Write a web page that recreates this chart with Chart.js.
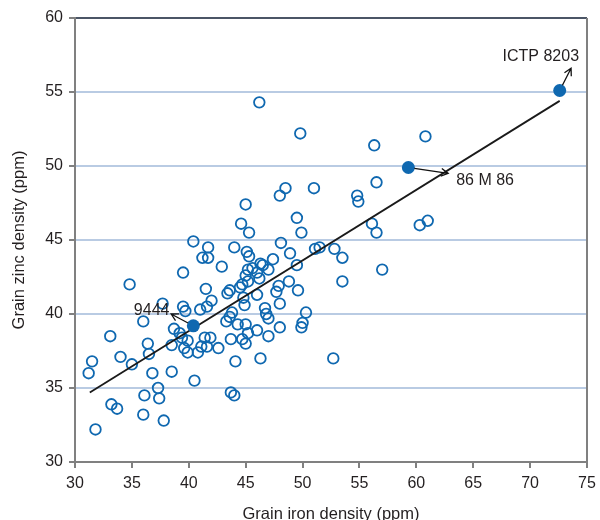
<!DOCTYPE html>
<html>
<head>
<meta charset="utf-8">
<script src="https://cdn.jsdelivr.net/npm/chart.js@4.4.0/dist/chart.umd.min.js"></script>
<style>
  html, body { margin: 0; padding: 0; background: #fff; }
  #wrap { width: 600px; height: 520px; }
</style>
</head>
<body>
<div id="wrap"><canvas id="zincChart"></canvas></div>
<script>
// grain iron (x) and zinc (y) density, ppm, one entry per line
const ironVals = [46.2, 49.8, 56.3, 60.8, 56.5, 54.8, 54.9, 56.1, 56.5, 60.3,
  61.0, 57.0, 53.5, 52.7, 52.8, 53.5, 51.1, 51.5, 51.0, 48.5,
  48.0, 49.5, 49.9, 50.3, 50.0, 49.9, 49.6, 48.8, 48.9, 49.5,
  48.1, 48.0, 48.0, 47.9, 47.7, 47.4, 46.3, 46.5, 47.0, 45.2,
  45.6, 45.0, 46.0, 46.2, 44.7, 45.2, 44.5, 43.6, 43.4, 46.0,
  44.9, 44.8, 46.7, 46.8, 47.0, 43.8, 43.6, 43.3, 44.3, 45.0,
  46.0, 45.2, 47.0, 44.7, 45.0, 43.7, 42.6, 44.1, 46.3, 40.5,
  38.5, 41.4, 41.9, 41.1, 41.6, 39.9, 40.8, 39.6, 39.4, 39.9,
  38.7, 39.2, 39.5, 39.7, 41.0, 41.6, 42.0, 37.7, 36.0, 41.5,
  40.4, 41.7, 41.2, 41.7, 44.0, 45.1, 45.3, 42.9, 39.5, 45.0,
  44.6, 45.3, 34.8, 33.1, 36.4, 31.5, 34.0, 36.5, 35.0, 31.2,
  36.8, 37.3, 37.4, 36.1, 33.2, 33.7, 36.0, 37.8, 31.8, 38.5,
  43.7, 44.0];
const zincVals = [54.3, 52.2, 51.4, 52.0, 48.9, 48.0, 47.6, 46.1, 45.5, 46.0,
  46.3, 43.0, 42.2, 37.0, 44.4, 43.8, 44.4, 44.5, 48.5, 48.5,
  48.0, 46.5, 45.5, 40.1, 39.4, 39.1, 41.6, 42.2, 44.1, 43.3,
  44.8, 39.1, 40.7, 41.9, 41.5, 43.7, 43.4, 43.3, 43.0, 43.0,
  43.1, 42.6, 42.8, 42.4, 42.0, 42.2, 41.8, 41.6, 41.4, 41.3,
  40.6, 41.1, 40.4, 40.0, 39.7, 40.1, 39.8, 39.5, 39.3, 39.3,
  38.9, 38.7, 38.5, 38.3, 38.0, 38.3, 37.7, 36.8, 37.0, 35.5,
  36.1, 38.4, 38.4, 37.8, 37.8, 37.4, 37.4, 37.7, 38.4, 38.2,
  39.0, 38.7, 40.5, 40.2, 40.3, 40.5, 40.9, 40.7, 39.5, 41.7,
  44.9, 44.5, 43.8, 43.8, 44.5, 44.2, 43.9, 43.2, 42.8, 47.4,
  46.1, 45.5, 42.0, 38.5, 38.0, 36.8, 37.1, 37.3, 36.6, 36.0,
  36.0, 35.0, 34.3, 34.5, 33.9, 33.6, 33.2, 32.8, 32.2, 37.9,
  34.7, 34.5];

// named lines
const namedLines = ['9444', '86 M 86', 'ICTP 8203'];
const namedIron = [40.4, 59.3, 72.6];
const namedZinc = [39.2, 49.9, 55.1];

// fitted trend line end points
const fitIron = [31.3, 72.6];
const fitZinc = [34.7, 54.4];

const xTicks = [30, 35, 40, 45, 50, 55, 60, 65, 70, 75];
const yTicks = [30, 35, 40, 45, 50, 55, 60];

// where each label's arrow points and where its text sits (data units)
const arrowTips = [[38.45, 40.0], [62.8, 49.5], [73.6, 56.6]];
const labelSpots = [[38.3, 40.2, 'right'], [63.5, 49.0, 'left'], [74.3, 57.4, 'right']];

const blue = '#0f68b0';
const textColor = '#231f20';
const axisGray = '#808080';
const gridBlue = '#b9cbe3';
const fontFamily = '"Liberation Sans", Arial, sans-serif';

const frameAndNotes = {
  id: 'frameAndNotes',
  afterDatasetsDraw(chart) {
    const { ctx, chartArea, scales } = chart;
    const xs = scales.x, ys = scales.y;
    ctx.save();
    // right-hand frame line
    ctx.strokeStyle = axisGray;
    ctx.lineWidth = 2;
    ctx.beginPath();
    ctx.moveTo(chartArea.right, chartArea.top);
    ctx.lineTo(chartArea.right, chartArea.bottom);
    ctx.stroke();

    ctx.strokeStyle = '#111';
    ctx.fillStyle = textColor;
    ctx.lineWidth = 1.3;
    ctx.font = '16px ' + fontFamily;
    ctx.textBaseline = 'middle';
    namedLines.forEach((name, i) => {
      const px = xs.getPixelForValue(namedIron[i]);
      const py = ys.getPixelForValue(namedZinc[i]);
      const tx = xs.getPixelForValue(arrowTips[i][0]);
      const ty = ys.getPixelForValue(arrowTips[i][1]);
      const ang = Math.atan2(ty - py, tx - px);
      const sx = px + Math.cos(ang) * 6;
      const sy = py + Math.sin(ang) * 6;
      ctx.beginPath();
      ctx.moveTo(sx, sy);
      ctx.lineTo(tx, ty);
      ctx.moveTo(tx - Math.cos(ang - 0.5) * 8, ty - Math.sin(ang - 0.5) * 8);
      ctx.lineTo(tx, ty);
      ctx.lineTo(tx - Math.cos(ang + 0.5) * 8, ty - Math.sin(ang + 0.5) * 8);
      ctx.stroke();

      const spot = labelSpots[i];
      ctx.textAlign = spot[2];
      ctx.fillText(name, xs.getPixelForValue(spot[0]), ys.getPixelForValue(spot[1]));
    });
    ctx.restore();
  }
};

const ctx = document.getElementById('zincChart').getContext('2d');
new Chart(ctx, {
  type: 'scatter',
  data: {
    datasets: [
      {
        label: 'named lines',
        data: namedIron.map((x, i) => ({ x: x, y: namedZinc[i] })),
        backgroundColor: blue,
        borderColor: blue,
        pointRadius: 6.5,
        borderWidth: 0
      },
      {
        label: 'trend',
        type: 'line',
        data: fitIron.map((x, i) => ({ x: x, y: fitZinc[i] })),
        borderColor: '#1a1a1a',
        borderWidth: 1.8,
        pointRadius: 0,
        fill: false
      },
      {
        label: 'lines',
        data: ironVals.map((x, i) => ({ x: x, y: zincVals[i] })),
        backgroundColor: 'rgba(0,0,0,0)',
        borderColor: blue,
        borderWidth: 1.8,
        pointRadius: 5.3
      }
    ]
  },
  options: {
    responsive: true,
    maintainAspectRatio: false,
    animation: false,
    layout: { padding: { top: 18, right: 13, left: 0, bottom: 0 } },
    plugins: {
      legend: { display: false },
      tooltip: { enabled: false }
    },
    scales: {
      x: {
        type: 'linear',
        min: 30,
        max: 75,
        afterFit: (axis) => {
          axis.height = 58;
          axis.paddingLeft = 0;
          axis.paddingRight = 0;
        },
        afterBuildTicks: (axis) => { axis.ticks = xTicks.map(v => ({ value: v })); },
        ticks: { color: textColor, font: { family: fontFamily, size: 16 }, padding: 6 },
        grid: { drawOnChartArea: false, tickLength: 6, tickColor: axisGray, lineWidth: 2 },
        border: { color: axisGray, width: 2 },
        title: {
          display: true,
          text: 'Grain iron density (ppm)',
          color: textColor,
          font: { family: fontFamily, size: 16.5 },
          padding: { top: 0, bottom: -4 }
        }
      },
      y: {
        type: 'linear',
        min: 30,
        max: 60,
        afterFit: (axis) => {
          axis.width = 75;
          axis.paddingTop = 0;
          axis.paddingBottom = 0;
        },
        afterBuildTicks: (axis) => { axis.ticks = yTicks.map(v => ({ value: v })); },
        ticks: { color: textColor, font: { family: fontFamily, size: 16 }, padding: 6 },
        grid: {
          color: (c) => (c.tick && c.tick.value === 60 ? '#4b5566' : gridBlue),
          lineWidth: 2,
          tickLength: 6,
          tickColor: axisGray
        },
        border: { color: axisGray, width: 2 },
        title: {
          display: true,
          text: 'Grain zinc density (ppm)',
          color: textColor,
          font: { family: fontFamily, size: 16.5 },
          padding: { top: 10, bottom: 0 }
        }
      }
    }
  },
  plugins: [frameAndNotes]
});
</script>
</body>
</html>
